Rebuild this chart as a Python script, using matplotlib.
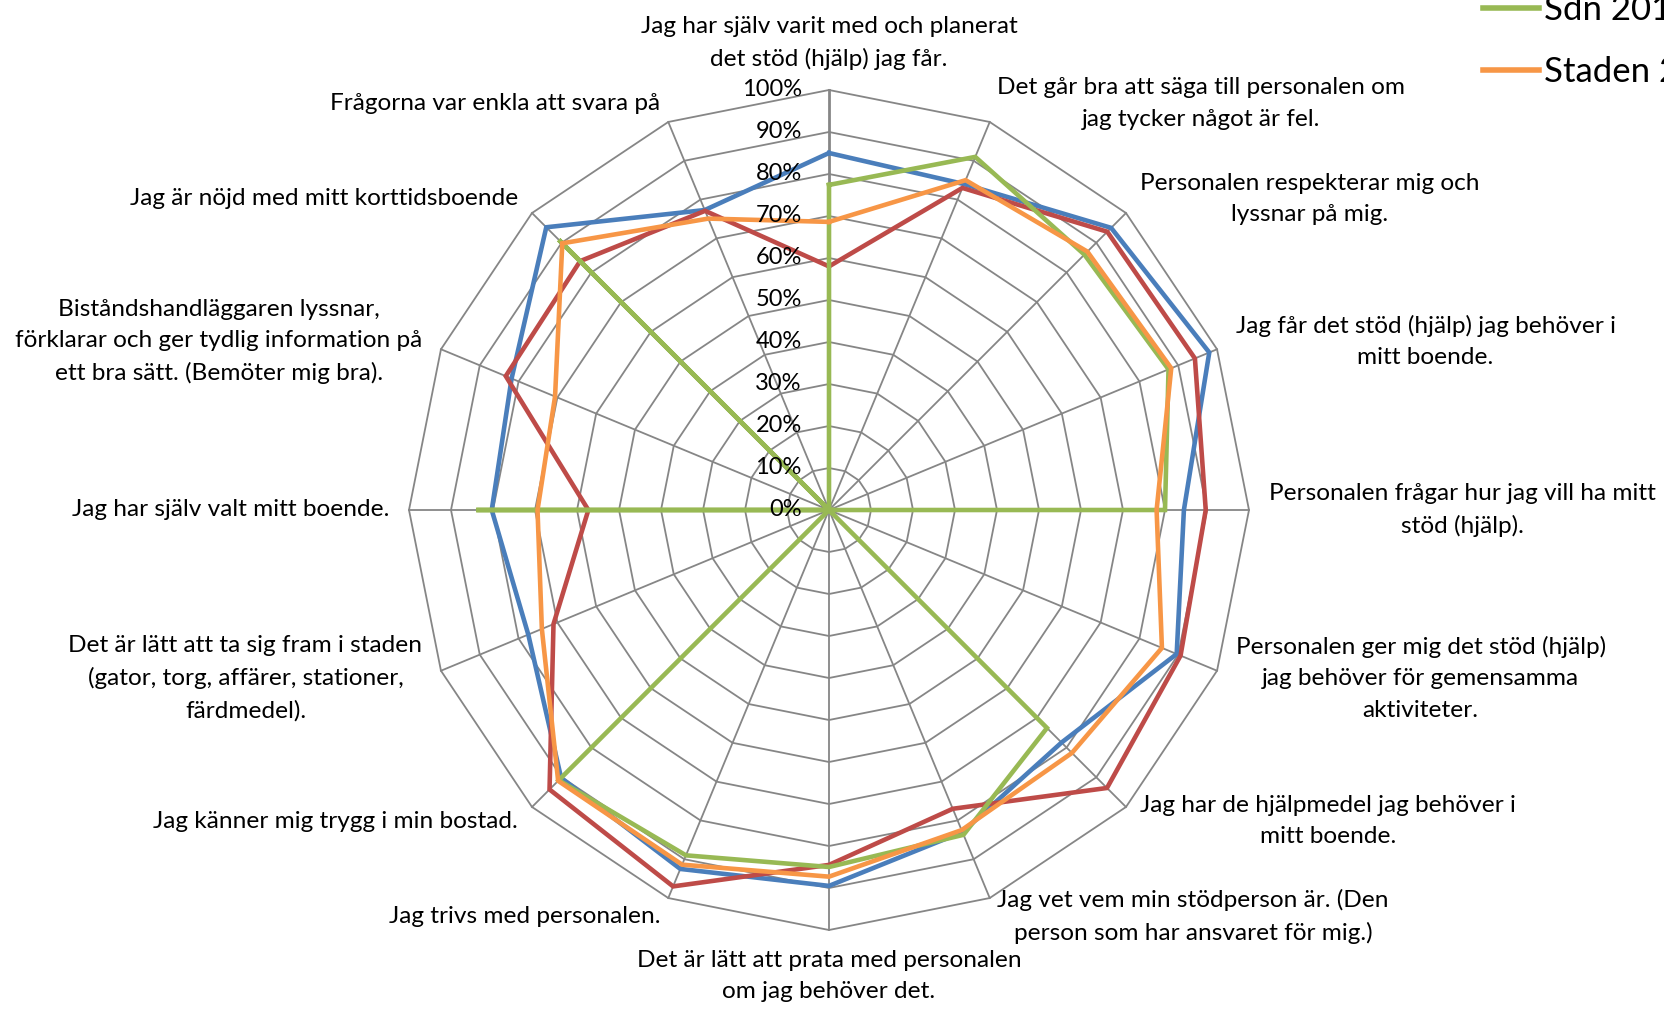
import numpy as np
import matplotlib
matplotlib.use('Agg')
import matplotlib.pyplot as plt

plt.rcParams['font.family'] = ['Lato', 'DejaVu Sans']

# ---------------- data ----------------
categories = [
    "Jag har själv varit med och planerat\ndet stöd (hjälp) jag får.",
    "Det går bra att säga till personalen om\njag tycker något är fel.",
    "Personalen respekterar mig och\nlyssnar på mig.",
    "Jag får det stöd (hjälp) jag behöver i\nmitt boende.",
    "Personalen frågar hur jag vill ha mitt\nstöd (hjälp).",
    "Personalen ger mig det stöd (hjälp)\njag behöver för gemensamma\naktiviteter.",
    "Jag har de hjälpmedel jag behöver i\nmitt boende.",
    "Jag vet vem min stödperson är. (Den\nperson som har ansvaret för mig.)",
    "Det är lätt att prata med personalen\nom jag behöver det.",
    "Jag trivs med personalen.",
    "Jag känner mig trygg i min bostad.",
    "Det är lätt att ta sig fram i staden\n(gator, torg, affärer, stationer,\nfärdmedel).",
    "Jag har själv valt mitt boende.",
    "Biståndshandläggaren lyssnar,\nförklarar och ger tydlig information på\nett bra sätt. (Bemöter mig bra).",
    "Jag är nöjd med mitt korttidsboende",
    "Frågorna var enkla att svara på",
]

series_names = ["Sdn 2012", "Sdn 2013", "Sdn 2014", "Staden 2014"]
series_blue = [85, 84, 95, 98, 84.5, 89.6, 78.3, 83, 89.5, 92.5, 90.2, 77.5, 80.3, 81.8, 95.2, 77.3]
series_red = [58, 83, 93.7, 94.3, 89.7, 90.6, 93.6, 77, 84.5, 97, 94.1, 71, 57.3, 83.3, 83.8, 77.1]
series_green = [77.4, 91, 86, 87.5, 80, 0, 73.4, 83.7, 85, 89, 91, 0, 84, 0, 91, 0]
series_orange = [68.6, 85, 87, 88.2, 78, 85.8, 81.8, 82.5, 87.3, 91.4, 91.2, 74, 69.4, 70.6, 89.8, 75.1]

ticks = [0, 10, 20, 30, 40, 50, 60, 70, 80, 90, 100]
tick_labels = [f"{t}%" for t in ticks]

colors = ["#4A7EBB", "#BE4B48", "#98B954", "#F79646"]

# ---------------- layout ----------------
W, H = 1665, 1010
fig = plt.figure(figsize=(W / 100, H / 100), dpi=100)
ax = fig.add_axes([0, 0, 1, 1])
cx, cy = 829, H - 510          # centre in pixels from lower-left
ppu = 4.2                      # pixels per percent unit
ax.set_xlim(-cx / ppu, (W - cx) / ppu)
ax.set_ylim(-cy / ppu, (H - cy) / ppu)
ax.axis('off')

n = len(categories)
theta = np.arange(n) * 2 * np.pi / n
sx, sy = np.sin(theta), np.cos(theta)

grid_col = "#868686"
# rings
for t in ticks[1:]:
    xs = np.append(t * sx, t * sx[0])
    ys = np.append(t * sy, t * sy[0])
    ax.plot(xs, ys, color=grid_col, lw=1.3, zorder=1)
# spokes
rmax = ticks[-1]
for i in range(n):
    ax.plot([0, rmax * sx[i]], [0, rmax * sy[i]], color=grid_col,
            lw=2.0 if i == 0 else 1.3, zorder=1)

# series
for vals, col, name in zip([series_blue, series_red, series_green, series_orange],
                           colors, series_names):
    v = np.array(vals, dtype=float)
    xs = np.append(v * sx, v[0] * sx[0])
    ys = np.append(v * sy, v[0] * sy[0])
    ax.plot(xs, ys, color=col, lw=3.3, solid_joinstyle='miter', zorder=3, label=name)

# value tick labels on the top axis
for t, lab in zip(ticks, tick_labels):
    ax.text(-6.5, t, lab, ha='right', va='center', fontsize=17, color='black', zorder=4)

# category labels
r_lab = rmax + 20 / ppu
for i, lab in enumerate(categories):
    s, c = sx[i], sy[i]
    if abs(s) < 1e-6:
        ha = 'center'
        va = 'bottom' if c > 0 else 'top'
    else:
        ha = 'left' if s > 0 else 'right'
        va = 'center'
    ax.text(r_lab * s, r_lab * c, lab, ha=ha, va=va, ma='center',
            fontsize=17.6, linespacing=1.6, color='black')

# legend (partially cut by the top edge, as in the reference)
leg = fig.legend(loc='upper left', bbox_to_anchor=(1452 / W, (H + 160) / H),
                 frameon=False, fontsize=25, handlelength=1.6, handletextpad=0.14,
                 labelspacing=0.85, borderpad=0.4)
for line in leg.get_lines():
    line.set_linewidth(4)

fig.savefig("out.png", dpi=100)
